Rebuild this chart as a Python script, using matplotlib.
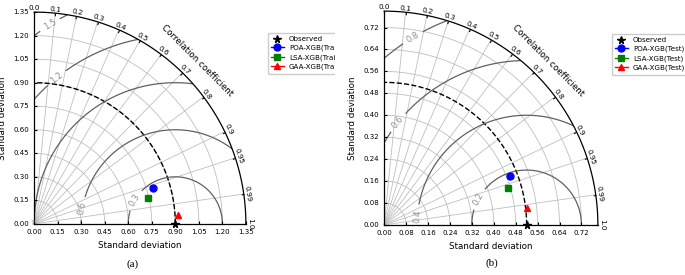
import numpy as np
import matplotlib
matplotlib.use("Agg")
import matplotlib.pyplot as plt
from matplotlib.projections import PolarAxes
from matplotlib.transforms import Bbox, TransformedBbox
import mpl_toolkits.axisartist.floating_axes as FA
import mpl_toolkits.axisartist.grid_finder as GF

# values
models = ["POA-XGB", "LSA-XGB", "GAA-XGB"]
markers = ["o", "s", "^"]
colors = ["blue", "green", "red"]

corr_ticks = [0.0, 0.1, 0.2, 0.3, 0.4, 0.5, 0.6, 0.7, 0.8, 0.9, 0.95, 0.99, 1.0]

# (a) training
ref_train = 0.90
std_train = [0.789, 0.745, 0.921]
corr_train = [0.958, 0.976, 0.998]
rms_train = [0.3, 0.6, 0.9, 1.2, 1.5]
std_ticks_train = [0.0, 0.15, 0.30, 0.45, 0.60, 0.75, 0.90, 1.05, 1.20, 1.35]

# (b) testing
ref_test = 0.52
std_test = [0.492, 0.472, 0.525]
corr_test = [0.931, 0.958, 0.993]
rms_test = [0.2, 0.4, 0.6, 0.8]
std_ticks_test = [0.0, 0.08, 0.16, 0.24, 0.32, 0.40, 0.48, 0.56, 0.64, 0.72]

W, H = 685, 275


def taylor(fig, rect, refstd, smax, std_ticks, stds, corrs, levels, lab_xy, suffix):
    tr = PolarAxes.PolarTransform()
    tlocs = np.arccos(corr_ticks)
    gl1 = GF.FixedLocator(tlocs)
    tf1 = GF.DictFormatter(dict(zip(tlocs, [str(c) for c in corr_ticks])))
    gl2 = GF.FixedLocator(std_ticks)
    tf2 = GF.DictFormatter({s: "%.2f" % s for s in std_ticks})
    gh = FA.GridHelperCurveLinear(tr, extremes=(0, np.pi / 2, 0, smax),
                                  grid_locator1=gl1, tick_formatter1=tf1,
                                  grid_locator2=gl2, tick_formatter2=tf2)
    ax = fig.add_axes(rect, axes_class=FA.FloatingAxes, grid_helper=gh)

    ax.axis["top"].set_axis_direction("bottom")
    ax.axis["top"].toggle(ticklabels=True, label=True)
    ax.axis["top"].major_ticklabels.set_axis_direction("top")
    ax.axis["top"].label.set_axis_direction("top")
    ax.axis["top"].label.set_text("Correlation coefficient")

    ax.axis["left"].set_axis_direction("bottom")
    ax.axis["left"].label.set_text("Standard deviation")

    ax.axis["right"].set_axis_direction("top")
    ax.axis["right"].toggle(ticklabels=True, label=True)
    ax.axis["right"].major_ticklabels.set_axis_direction("left")
    ax.axis["right"].label.set_axis_direction("left")
    ax.axis["right"].label.set_text("Standard deviation")
    ax.axis["bottom"].set_visible(False)

    for k in ["top", "left", "right"]:
        ax.axis[k].major_ticklabels.set_fontsize(5.0)
        ax.axis[k].label.set_fontsize(6.3)
        ax.axis[k].line.set_linewidth(0.9)
        ax.axis[k].major_ticks.set_ticksize(2)
    ax.axis["top"].major_ticklabels.set_fontsize(5.2)
    ax.axis["top"].major_ticklabels.set_pad(1.5)
    ax.grid(True, color="0.75", lw=0.6)

    aux = ax.get_aux_axes(tr)
    aux.patch = ax.patch
    ax.patch.zorder = 0.9

    # reference std arc
    t = np.linspace(0, np.pi / 2, 100)
    aux.plot(t, np.full_like(t, refstd), "k--", lw=1.0)

    # centred RMS contours
    rs, ts = np.meshgrid(np.linspace(0, smax, 200), np.linspace(0, np.pi / 2, 200))
    rms = np.sqrt(refstd ** 2 + rs ** 2 - 2 * refstd * rs * np.cos(ts))
    cs = aux.contour(ts, rs, rms, levels, colors="0.38", linewidths=0.9)
    man = [(np.arctan2(y, x), np.hypot(x, y)) for x, y in lab_xy]
    cs.clabel(manual=man, inline=True, fontsize=6, colors="0.55", fmt="%.1f")

    handles = []
    h, = aux.plot([0], [refstd], "k*", ls="", ms=5.5, label="Observed",
                  clip_on=False, zorder=5)
    handles.append(h)
    for m, mk, c, s, r in zip(models, markers, colors, stds, corrs):
        h, = aux.plot([np.arccos(r)], [s], marker=mk, color=c, ls="-", lw=1,
                      ms=5 if mk != "s" else 4.5, label=m + suffix,
                      clip_on=False, zorder=5)
        handles.append(h)
    return ax, handles


fig = plt.figure(figsize=(W / 100, H / 100), dpi=100)

rect_a = [32 / W, (H - 226) / H, 216 / W, 216 / H]
ax_a, h_a = taylor(fig, rect_a, ref_train, 1.35, std_ticks_train, std_train,
                   corr_train, rms_train,
                   [(0.644, 0.15), (0.30, 0.10), (0.0, 0.0), (0.144, 0.931), (0.10, 1.269)],
                   "(Train)")

rect_b = [382 / W, (H - 227) / H, 218 / W, 218 / H]
ax_b, h_b = taylor(fig, rect_b, ref_test, 0.78, std_ticks_test, std_test,
                   corr_test, rms_test,
                   [(0.340, 0.097), (0.125, 0.032), (0.039, 0.383), (0.107, 0.680)],
                   "(Test)")

leg_kw = dict(loc="upper left", fontsize=5.1, handlelength=1.8, borderpad=0.5,
              labelspacing=0.4, handletextpad=0.7, framealpha=1, edgecolor="0.8")
leg_a = fig.legend(handles=h_a, bbox_to_anchor=(264 / W, 1 - 29 / H), **leg_kw)
clip = TransformedBbox(Bbox([[0, 0], [335 / W, 1]]), fig.transFigure)
for a in leg_a.findobj():
    a.set_clip_box(clip)
    a.set_clip_on(True)

fig.legend(handles=h_b, bbox_to_anchor=(608 / W, 1 - 30 / H), **leg_kw)

fig.text(133 / W, 1 - 264 / H, "(a)", ha="center", va="center",
         family="Liberation Serif", fontsize=8)
fig.text(492 / W, 1 - 263 / H, "(b)", ha="center", va="center",
         family="Liberation Serif", fontsize=8)

fig.savefig("out.png", dpi=100)
